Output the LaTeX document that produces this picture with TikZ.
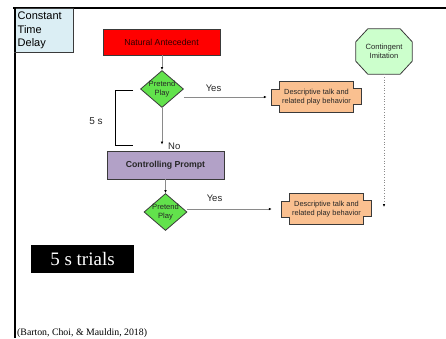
\documentclass[tikz,border=0pt]{standalone}
\usepackage{fontspec}
\setmainfont{Liberation Sans}
\newfontfamily\timesfont{Liberation Serif}
\usetikzlibrary{arrows.meta,shapes.geometric,calc}
\definecolor{ctdblue}{HTML}{DBEEF4}
\definecolor{antred}{HTML}{FF0000}
\definecolor{playgreen}{HTML}{62E24C}
\definecolor{imitgreen}{HTML}{CCFFCC}
\definecolor{promptlilac}{HTML}{B2A1C7}
\definecolor{talkpeach}{HTML}{FAC090}
\definecolor{edgegray}{HTML}{3A3A3A}
\definecolor{linkgray}{HTML}{8A8A8A}
\begin{document}
\begin{tikzpicture}[x=1pt,y=-1pt,
  box/.style={draw=edgegray,line width=0.8pt,inner sep=0pt},
  playdia/.style={diamond,draw=edgegray,fill=playgreen,line width=0.8pt,
    minimum width=43pt,minimum height=37pt,inner sep=0pt},
  smalltxt/.style={font=\fontsize{7.6}{8.6}\selectfont,align=center,inner sep=0pt,text=black!85},
  boxtxt/.style={font=\fontsize{8.7}{10}\selectfont,inner sep=0pt},
  lbl/.style={font=\fontsize{9.5}{11}\selectfont,inner sep=0pt,text=black!85},
  link/.style={draw=linkgray,line width=0.7pt,-{Latex[length=3pt,width=2.6pt,color=black]}},
  outline/.style={draw=edgegray,line width=0.8pt},
]
\useasboundingbox (0,0) rectangle (446,338);
\fill[white] (0,0) rectangle (446,338);

% slide frame
\draw[line width=1.8pt] (13,8) -- (446,8);
\draw[line width=2.4pt] (15,7.1) -- (15,338);

% title box
\node[box,fill=ctdblue,minimum width=59pt,minimum height=44pt] (ctd) at (43.5,30) {};
\node[font=\fontsize{11}{13.3}\selectfont,align=left,anchor=north west,inner sep=0pt]
  (ctdt) at (17.5,12) {Constant\\Time\\Delay};
\draw[line width=2.4pt] (15,8) -- (15,52);

% boxes
\node[box,fill=antred,minimum width=117pt,minimum height=26pt,boxtxt,text=black!80!red]
  (na) at (161.5,42) {Natural Antecedent};
\node[box,fill=promptlilac,minimum width=117pt,minimum height=28pt,boxtxt,font=\fontsize{8.7}{10}\selectfont\bfseries,text=black!85]
  (cp) at (165.5,165) {Controlling Prompt};

% decision diamonds
\node[playdia] (d1) at (162,89) {};
\node[smalltxt] (d1t) at (d1) {Pretend\\Play};
\node[playdia] (d2) at (165.5,212) {};
\node[smalltxt] (d2t) at (d2) {Pretend\\Play};

% descriptive talk boxes (notched outline)
\node[minimum width=89pt,minimum height=30pt,inner sep=0pt] (desc1) at (316.5,97) {};
\node[minimum width=89pt,minimum height=30pt,inner sep=0pt] (desc2) at (326.5,209) {};
\foreach \d in {desc1,desc2}{
  \filldraw[outline,fill=talkpeach]
    ($(\d.north west)+(8,0)$) -- ($(\d.north east)+(-8,0)$) -- ++(0,7) -- ++(8,0)
    -- ++(0,16) -- ++(-8,0) -- ($(\d.south east)+(-8,0)$) -- ($(\d.south west)+(8,0)$)
    -- ++(0,-7) -- ++(-8,0) -- ++(0,-16) -- ++(8,0) -- cycle;
}
\node[smalltxt,font=\fontsize{7.4}{8.8}\selectfont] (desc1t) at (desc1) {Descriptive talk and\\related play behavior};
\node[smalltxt,font=\fontsize{7.4}{8.8}\selectfont] (desc2t) at (desc2) {Descriptive talk and\\related play behavior};

% contingent imitation octagon
\node[minimum width=56pt,minimum height=45pt,inner sep=0pt] (ci) at (384,51.5) {};
\filldraw[outline,fill=imitgreen]
  ($(ci.north west)+(12,0)$) -- ($(ci.north east)+(-12,0)$) -- ($(ci.north east)+(0,13)$)
  -- ($(ci.south east)+(0,-13)$) -- ($(ci.south east)+(-12,0)$) -- ($(ci.south west)+(12,0)$)
  -- ($(ci.south west)+(0,-13)$) -- ($(ci.north west)+(0,13)$) -- cycle;
\node[smalltxt] (cit) at (ci) {Contingent\\Imitation};

% connectors
\draw[link] (na.south -| d1.north) -- (d1.north);
\draw[link,shorten >=6pt] (d1.south) -- (d1.south |- cp.north);
\draw[link] (cp.south -| d2.north) -- (d2.north);
\draw[link,shorten >=5pt] (d1.east |- desc1.west) -- (desc1.west);
\draw[link,shorten >=10pt] (d2.east |- desc2.west) -- (desc2.west);
\draw[link,dotted,shorten >=2pt] (ci.south) -- (ci.south |- desc2.east);

% connector labels
\node[lbl] (yes1) at (213.5,88) {Yes};
\node[lbl] (yes2) at (214.5,198) {Yes};
\node[lbl,anchor=west] (no) at (168,146) {No};

% five-second bracket
\coordinate (bt) at (133,90);
\coordinate (bb) at (133,145);
\draw[line width=0.8pt] (bt) -- (115,90) -- (115,145) -- (bb);
\node[lbl,font=\fontsize{10}{12}\selectfont] (fives) at (96,121) {5 s};

% trials banner
\node[fill=black,text=white,minimum width=103pt,minimum height=28pt,inner sep=0pt,
  font=\timesfont\fontsize{19}{22}\selectfont] (trials) at (82.5,259) {5 s trials};

% citation
\node[anchor=base west,inner sep=0pt,font=\timesfont\fontsize{9.8}{12}\selectfont]
  (cite) at (17,335) {(Barton, Choi, \& Mauldin, 2018)};
\end{tikzpicture}
\end{document}
